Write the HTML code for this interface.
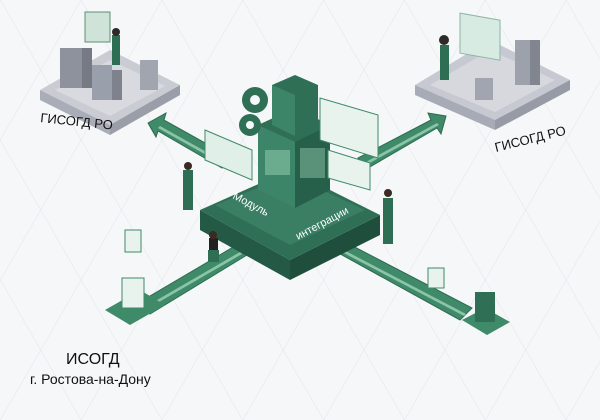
<!DOCTYPE html>
<html><head><meta charset="utf-8"><style>
html,body{margin:0;padding:0;background:#f6f7f9}
svg{display:block}
text{font-family:"Liberation Sans","DejaVu Sans",sans-serif}
</style></head><body>
<svg width="600" height="420" viewBox="0 0 600 420" xmlns="http://www.w3.org/2000/svg">
<defs>
<pattern id="g1" width="70" height="40" patternUnits="userSpaceOnUse" patternTransform="skewX(-60)">
<path d="M0 0H70" stroke="#e1e4e8" stroke-width="1" fill="none"/>
</pattern>
<pattern id="g2" width="70" height="40" patternUnits="userSpaceOnUse" patternTransform="rotate(30)">
<path d="M0 0V40" stroke="#e1e4e8" stroke-width="1" fill="none"/>
</pattern>
<pattern id="g3" width="70" height="40" patternUnits="userSpaceOnUse" patternTransform="rotate(-30)">
<path d="M0 0V40" stroke="#e1e4e8" stroke-width="1" fill="none"/>
</pattern>
</defs>
<rect width="600" height="420" fill="#f6f7f9"/>
<rect width="600" height="420" fill="url(#g2)"/>
<rect width="600" height="420" fill="url(#g3)"/>

<!-- top-left platform -->
<polygon points="40,90 110,50 180,85 110,125" fill="#c9ccd3"/>
<polygon points="40,90 110,125 110,135 40,100" fill="#a9adb7"/>
<polygon points="110,125 180,85 180,95 110,135" fill="#9a9ea8"/>
<polygon points="55,90 110,60 165,86 110,116" fill="#d8dae0"/>
<rect x="60" y="48" width="22" height="40" fill="#8d929d"/><rect x="82" y="48" width="10" height="40" fill="#757a85"/>
<rect x="92" y="65" width="20" height="35" fill="#9aa0ab"/><rect x="112" y="70" width="10" height="30" fill="#7d828d"/>
<rect x="140" y="60" width="18" height="30" fill="#a0a5b0"/>
<rect x="85" y="12" width="25" height="30" fill="#cfe3d8" stroke="#5c8f76"/>
<rect x="112" y="35" width="8" height="30" fill="#2e6e55"/><circle cx="116" cy="32" r="4" fill="#2e2a28"/>

<!-- top-right platform -->
<polygon points="415,85 490,40 570,80 495,120" fill="#c6c9d1"/>
<polygon points="415,85 495,120 495,130 415,95" fill="#a7abb5"/>
<polygon points="495,120 570,80 570,90 495,130" fill="#979ba6"/>
<polygon points="430,85 490,50 555,80 495,112" fill="#d6d8de"/>
<rect x="515" y="40" width="25" height="45" fill="#9ca1ac"/><rect x="530" y="40" width="10" height="45" fill="#80858f"/>
<rect x="475" y="78" width="18" height="22" fill="#a0a5b0"/>
<rect x="460" y="12" width="40" height="40" fill="#d8ebe2" stroke="#8cb5a1" transform="skewY(10) translate(0,-80)"/>
<rect x="440" y="45" width="9" height="35" fill="#2e6e55"/><circle cx="444" cy="40" r="5" fill="#2e2a28"/>

<!-- arrows -->
<g fill="#3f8a69" stroke="#2d6a50" stroke-width="1">
<polygon points="148,123 166,113 164,120 232,158 222,168 158,131 156,137"/>
<polygon points="446,116 428,113 431,120 358,158 368,168 437,128 441,134"/>
<polygon points="138,303 235,246 247,255 150,314"/>
<polygon points="123,300 141,289 143,305 127,320"/>
<polygon points="333,250 345,242 472,308 460,320"/>
</g>
<g fill="#8bc4a8">
<polygon points="160,126 228,164 226,166 158,128"/>
<polygon points="437,123 364,163 366,165 439,125"/>
<polygon points="340,248 466,314 464,316 338,250"/>
<polygon points="145,307 240,252 242,254 147,309"/>
</g>

<!-- central platform -->
<polygon points="200,210 290,260 380,215 290,170" fill="#2f6f56"/>
<polygon points="200,210 290,260 290,280 200,230" fill="#245a45"/>
<polygon points="290,260 380,215 380,235 290,280" fill="#1f4e3c"/>
<polygon points="215,205 290,245 365,210 290,175" fill="#3a7f63"/>

<!-- tower -->
<polygon points="258,125 295,108 330,125 330,190 295,208 258,190" fill="#2f6f56"/>
<polygon points="258,125 295,142 295,208 258,190" fill="#3d8568"/>
<polygon points="295,142 330,125 330,190 295,208" fill="#27604a"/>
<polygon points="272,85 295,75 318,85 318,125 295,136 272,125" fill="#2f6f56"/>
<polygon points="272,85 295,95 295,136 272,125" fill="#3d8568"/>
<rect x="265" y="150" width="25" height="25" fill="#8bc4a8" opacity=".6"/>
<rect x="300" y="148" width="25" height="30" fill="#8bc4a8" opacity=".5"/>
<!-- gears -->
<circle cx="255" cy="100" r="13" fill="#2f6f56"/><circle cx="255" cy="100" r="5" fill="#f6f7f9"/>
<circle cx="250" cy="125" r="11" fill="#2f6f56"/><circle cx="250" cy="125" r="4" fill="#f6f7f9"/>
<!-- panels -->
<polygon points="320,98 378,115 378,158 320,140" fill="#e8f3ed" stroke="#3f8a69"/>
<polygon points="328,150 370,163 370,190 328,178" fill="#e8f3ed" stroke="#3f8a69"/>
<polygon points="205,130 252,150 252,180 205,160" fill="#e0efe7" stroke="#3f8a69"/>
<!-- label -->
<text x="232" y="198" fill="#fff" font-size="11" transform="rotate(28 232 198)">Модуль</text>
<text x="298" y="240" fill="#fff" font-size="11" transform="rotate(-28 298 240)">интеграции</text>

<!-- people -->
<rect x="183" y="170" width="10" height="40" fill="#2e6e55"/><circle cx="188" cy="166" r="4" fill="#3a2a22"/>
<rect x="209" y="238" width="9" height="22" fill="#222"/><rect x="208" y="250" width="11" height="12" fill="#2e6e55"/><circle cx="213" cy="235" r="4" fill="#3a2a22"/>
<rect x="383" y="198" width="10" height="46" fill="#2e6e55"/><circle cx="388" cy="193" r="4" fill="#3a2a22"/>

<!-- bottom-left device -->
<polygon points="105,310 140,290 165,305 130,325" fill="#3f8a69"/>
<rect x="122" y="278" width="22" height="30" fill="#e8f3ed" stroke="#3f8a69"/>
<rect x="125" y="230" width="16" height="22" fill="#e8f3ed" stroke="#3f8a69"/>
<!-- bottom-right building -->
<polygon points="462,320 485,308 510,322 487,335" fill="#3f8a69"/>
<rect x="475" y="292" width="20" height="30" fill="#2f6f56"/>
<rect x="428" y="268" width="16" height="20" fill="#e8f3ed" stroke="#3f8a69"/>

<!-- labels -->
<text x="40" y="122" font-size="13" fill="#111" transform="rotate(6 40 122)">ГИСОГД РО</text>
<text x="496" y="152" font-size="13" fill="#111" transform="rotate(-14 496 152)">ГИСОГД РО</text>
<text x="66" y="364" font-size="16" fill="#111">ИСОГД</text>
<text x="30" y="384" font-size="14" fill="#111">г. Ростова-на-Дону</text>
</svg>
</body></html>
